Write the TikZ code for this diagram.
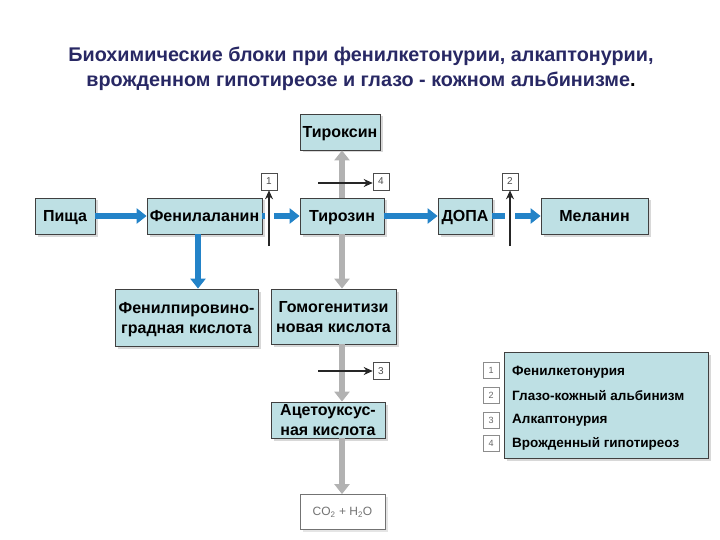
\documentclass[tikz,border=0pt]{standalone}
\usepackage{fontspec}
\setmainfont{Liberation Sans}
\usetikzlibrary{arrows.meta,shadows,calc}
\definecolor{boxfill}{RGB}{190,224,228}
\definecolor{arrblue}{RGB}{35,131,200}
\definecolor{arrgray}{RGB}{178,178,178}
\definecolor{titlecol}{RGB}{40,40,100}
\begin{document}
\begin{tikzpicture}[x=1pt,y=-1pt,
 box/.style={draw=black!75, line width=0.8pt, fill=boxfill, inner sep=0pt, minimum height=36pt, align=center,
   font=\bfseries\fontsize{16}{20}\selectfont, text depth=0pt,
   drop shadow={shadow xshift=2.5pt,shadow yshift=-2.5pt,fill=black!30}},
 oneline/.style={text height=11.5pt, text depth=0pt},
 blk/.style={draw=black!70, line width=0.6pt, fill=white, minimum width=16pt, minimum height=17pt, inner sep=0pt,
   font=\fontsize{10}{11}\selectfont, text=black!70},
 lgnum/.style={draw=black!45, line width=0.6pt, fill=white, minimum width=16pt, minimum height=16pt, inner sep=0pt,
   font=\fontsize{9}{10}\selectfont, text=black!60},
 lgtext/.style={anchor=west, inner sep=0pt, font=\bfseries\fontsize{13.5}{15}\selectfont},
 bluearr/.style={draw=arrblue, line width=6pt, -{Triangle[width=15pt,length=10pt]}},
 grayarr/.style={draw=arrgray, line width=6pt, -{Triangle[width=15pt,length=10pt]}},
 blackarr/.style={draw=black!85, line width=2.2pt, -{Stealth[width=8pt,length=9pt]}},
]
\useasboundingbox (0,0) rectangle (720,540);

% title
\node[font=\bfseries\fontsize{19.8}{25}\selectfont, text=titlecol, align=center] (title) at (361,69)
 {Биохимические блоки при фенилкетонурии, алкаптонурии,\\врожденном гипотиреозе и глазо - кожном альбинизме\textcolor{black}{.}};

% boxes
\node[box, oneline, minimum width=60pt] (food) at (65,216) {Пища};
\node[box, oneline, minimum width=115pt] (phe) at (204.5,216) {Фенилаланин};
\node[box, oneline, minimum width=84pt] (tyr) at (342,216) {Тирозин};
\node[box, oneline, minimum width=54pt] (dopa) at (465,216) {ДОПА};
\node[box, oneline, minimum width=107pt] (mel) at (594.5,216) {Меланин};
\node[box, oneline, minimum width=80pt] (thy) at (340,132) {Тироксин};
\node[box, minimum width=143pt, minimum height=57pt] (ppk) at (186.5,317.5) {Фенилпировино-\\градная кислота};
\node[box, minimum width=125pt, minimum height=55pt] (hga) at (333.5,316.5) {Гомогенитизи\\новая кислота};
\node[box, minimum width=114pt, minimum height=36pt] (aca) at (328,420) {Ацетоуксус-\\ная кислота};
\node[draw=black!55, line width=0.8pt, fill=white, minimum width=85pt, minimum height=35pt, inner sep=0pt,
  font=\fontsize{12}{14}\selectfont, text=black!55,
  drop shadow={shadow xshift=2.5pt,shadow yshift=-2.5pt,fill=black!20}] (co2) at (342.5,512) {CO\textsubscript{2} + H\textsubscript{2}O};

% blue arrows
\draw[bluearr] (food.east) -- (phe.west);
\draw[bluearr] (phe.east) -- (tyr.west);
\draw[bluearr] (tyr.east) -- (dopa.west);
\draw[bluearr] (dopa.east) -- (mel.west);
\coordinate (phe1) at ([xshift=-6.5pt]phe.south);
\draw[bluearr] (phe1) -- (phe1 |- ppk.north);

% gray arrows
\draw[grayarr] (tyr.north) -- (tyr.north |- thy.south);
\draw[grayarr] (tyr.south) -- (tyr.south |- hga.north);
\coordinate (hga1) at (tyr.south |- hga.south);
\draw[grayarr] (hga1) -- (hga1 |- aca.north);
\coordinate (aca1) at (tyr.south |- aca.south);
\draw[grayarr] (aca1) -- (aca1 |- co2.north);

% gaps in blue arrows
\fill[white] (264.5,207) rectangle (274,225);
\fill[white] (505,207) rectangle (515,225);

% block markers
\node[blk] (b1) at (269,181.5) {1};
\node[blk] (b2) at (510,181.5) {2};
\node[blk] (b4) at (381,181.5) {4};
\node[blk] (b3) at (381,371) {3};
\coordinate (s1) at (269,246);
\coordinate (s2) at (510,246);
\coordinate (s4) at (318,183);
\coordinate (s3) at (318,371);
\draw[blackarr] (s1) -- (b1.south);
\draw[blackarr] (s2) -- (b2.south);
\draw[blackarr] (s4) -- (s4 -| b4.west);
\draw[blackarr] (s3) -- (b3.west);

% legend
\node[draw=black!75, line width=0.8pt, fill=boxfill, minimum width=204pt, minimum height=106pt, inner sep=0pt,
  drop shadow={shadow xshift=2.5pt,shadow yshift=-2.5pt,fill=black!30}] (legend) at (606,405) {};
\node[lgnum] (n1) at (491,370) {1};
\node[lgnum] (n2) at (491,395) {2};
\node[lgnum] (n3) at (491,420) {3};
\node[lgnum] (n4) at (491,443) {4};
\node[lgtext] (l1) at (512,372) {Фенилкетонурия};
\node[lgtext] (l2) at (512,396) {Глазо-кожный альбинизм};
\node[lgtext] (l3) at (512,420) {Алкаптонурия};
\node[lgtext] (l4) at (512,444) {Врожденный гипотиреоз};
\end{tikzpicture}
\end{document}
